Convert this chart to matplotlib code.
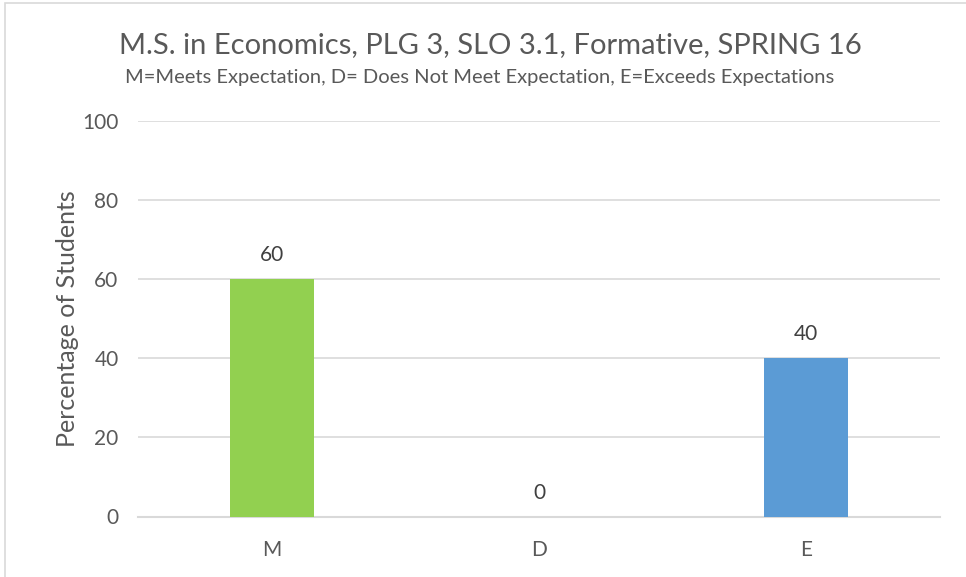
import matplotlib
matplotlib.use("Agg")
import matplotlib.pyplot as plt
from matplotlib.patches import Rectangle

categories = ["M", "D", "E"]
values = [60, 0, 40]
bar_colors = ["#92D050", "#5B9BD5", "#5B9BD5"]
y_ticks = [0, 20, 40, 60, 80, 100]

title = "M.S. in Economics, PLG 3, SLO 3.1, Formative, SPRING 16"
subtitle = "M=Meets Expectation, D= Does Not Meet Expectation, E=Exceeds Expectations"
y_label = "Percentage of Students"

text_color = "#595959"
grid_color = "#D9D9D9"
plt.rcParams["font.family"] = ["Lato", "DejaVu Sans"]

W, H = 966, 577
fig = plt.figure(figsize=(W / 100, H / 100), dpi=100)
ax = fig.add_axes([138 / W, 1 - 516.5 / H, (940 - 138) / W, (516.5 - 121) / H])

x = list(range(len(categories)))
ax.bar(x, values, width=0.314, color=bar_colors, zorder=3)
for xi, v in zip(x, values):
    ax.annotate(f"{v}", (xi, v), xytext=(0, 10), textcoords="offset points",
                ha="center", va="bottom", fontsize=15, color="#404040")

ax.set_xlim(-0.5, 2.5)
ax.set_ylim(0, 100)
ax.set_yticks(y_ticks)
ax.set_xticks(x)
ax.set_xticklabels(categories)
ax.tick_params(axis="both", length=0, labelsize=15, colors=text_color)
ax.tick_params(axis="y", pad=14)
ax.tick_params(axis="x", pad=17)
ax.yaxis.grid(True, color=grid_color, linewidth=1.2, zorder=0)
for s in ["top", "right", "left"]:
    ax.spines[s].set_visible(False)
ax.spines["bottom"].set_color(grid_color)
ax.spines["bottom"].set_linewidth(1.5)
ax.set_ylabel(y_label, fontsize=18, color=text_color, labelpad=2)

fig.text(490 / W, 1 - 45 / H, title, ha="center", va="center", fontsize=21, color=text_color)
fig.text(480 / W, 1 - 77 / H, subtitle, ha="center", va="center", fontsize=14.5, color=text_color)

fig.patches.append(Rectangle((5 / W, -0.1), 1.2, 1.1 - 3 / H, transform=fig.transFigure,
                             fill=False, edgecolor="#D9D9D9", linewidth=1.2))

fig.savefig("out.png", dpi=100)
